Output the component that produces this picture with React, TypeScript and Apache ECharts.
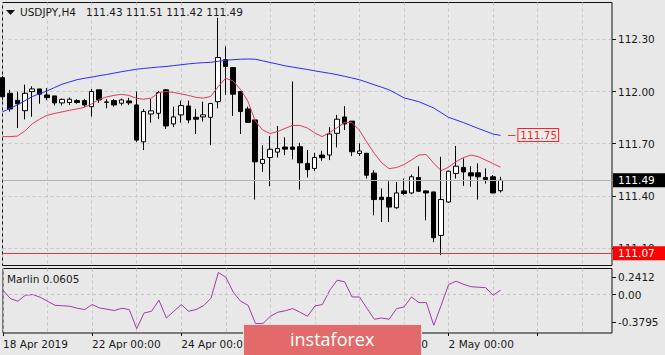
import React, { useEffect, useRef } from "react";
import * as echarts from "echarts";

const symbolLabel = "USDJPY,H4";
const days = ["18 Apr", "19 Apr", "22 Apr", "23 Apr", "24 Apr", "25 Apr", "26 Apr", "29 Apr", "30 Apr", "1 May", "2 May", "3 May", "6 May", "7 May"];
const hours = ["00:00", "04:00", "08:00", "12:00", "16:00", "20:00"];
const SLOTS = 83;
const categories = days.flatMap((d) => hours.map((h) => `${d} ${h}`)).slice(0, SLOTS);
const xTickLabels = ["18 Apr 2019", "22 Apr 00:00", "24 Apr 00:00", "26 Apr 00:00", "30 Apr 00:00", "2 May 00:00"];
const priceTicks = [111.1, 111.4, 111.7, 112.0, 112.3];
const marlinTicks = [0.2412, 0, -0.3795];

const opens = [
  112.08, 111.99, 111.95, 111.89, 112.0, 112.015, 111.98, 111.975, 111.935, 111.937,
  111.948, 111.948, 111.913, 112.01, 111.94, 111.948, 111.933, 111.946, 111.923, 111.711,
  111.871, 111.875, 112.01, 111.814, 111.866, 111.917, 111.852, 111.854, 111.852, 111.942,
  112.183, 112.138, 112.0, 111.9, 111.837, 111.587, 111.621, 111.652, 111.681, 111.681,
  111.683, 111.587, 111.558, 111.635, 111.635, 111.76, 111.854, 111.83, 111.644, 111.645,
  111.531, 111.392, 111.391, 111.332, 111.429, 111.417, 111.506, 111.429, 111.423, 111.173,
  111.365, 111.529, 111.564, 111.533, 111.533, 111.506, 111.51, 111.43,
];
const closes = [
  111.97, 111.9, 111.93, 111.99, 112.015, 111.985, 111.965, 111.935, 111.955, 111.956,
  111.937, 111.923, 112.0, 111.952, 111.938, 111.923, 111.952, 111.935, 111.721, 111.885,
  111.889, 111.994, 111.802, 111.854, 111.919, 111.837, 111.841, 111.866, 111.931, 112.196,
  112.144, 111.985, 111.885, 111.823, 111.596, 111.61, 111.668, 111.672, 111.669, 111.668,
  111.59, 111.551, 111.621, 111.62, 111.756, 111.841, 111.814, 111.654, 111.658, 111.519,
  111.379, 111.379, 111.336, 111.417, 111.414, 111.51, 111.427, 111.417, 111.16, 111.379,
  111.542, 111.571, 111.538, 111.515, 111.51, 111.495, 111.417, 111.49,
];
const lows = [
  111.95, 111.885, 111.79, 111.84, 111.855, 111.93, 111.95, 111.92, 111.92, 111.923,
  111.93, 111.913, 111.856, 111.935, 111.904, 111.913, 111.92, 111.923, 111.711, 111.664,
  111.821, 111.842, 111.785, 111.795, 111.821, 111.818, 111.756, 111.827, 111.692, 111.904,
  111.981, 111.86, 111.756, 111.82, 111.379, 111.538, 111.456, 111.621, 111.635, 111.61,
  111.437, 111.506, 111.544, 111.602, 111.606, 111.679, 111.779, 111.629, 111.629, 111.5,
  111.289, 111.25, 111.25, 111.327, 111.404, 111.41, 111.423, 111.26, 111.134, 111.06,
  111.36, 111.5, 111.458, 111.452, 111.379, 111.471, 111.415, 111.42,
];
const highs = [
  112.09, 112.01, 112.0, 112.04, 112.03, 112.015, 112.02, 111.975, 111.96, 111.966,
  111.956, 111.958, 112.014, 112.01, 111.956, 111.956, 111.96, 111.964, 112.0, 111.9,
  111.958, 112.004, 112.014, 111.913, 111.948, 111.948, 111.9, 111.942, 111.935, 112.424,
  112.26, 112.138, 112.0, 111.913, 111.837, 111.692, 111.744, 111.802, 111.737, 112.058,
  111.706, 111.664, 111.648, 111.66, 111.795, 111.866, 111.916, 111.83, 111.702, 111.645,
  111.548, 111.443, 111.485, 111.48, 111.5, 111.523, 111.571, 111.43, 111.423, 111.625,
  111.545, 111.687, 111.616, 111.571, 111.587, 111.558, 111.52, 111.51,
];
const maSlow = [
  111.883, 111.903, 111.923, 111.947, 111.971, 111.988, 112.004, 112.023, 112.042, 112.055,
  112.068, 112.076, 112.083, 112.091, 112.098, 112.106, 112.114, 112.121, 112.128, 112.133,
  112.137, 112.141, 112.144, 112.149, 112.154, 112.159, 112.163, 112.166, 112.168, 112.174,
  112.18, 112.183, 112.186, 112.187, 112.186, 112.177, 112.167, 112.158, 112.148, 112.141,
  112.134, 112.127, 112.119, 112.112, 112.105, 112.097, 112.088, 112.078, 112.068, 112.054,
  112.039, 112.025, 112.01, 111.988, 111.964, 111.953, 111.942, 111.924, 111.906, 111.879,
  111.852, 111.837, 111.822, 111.805, 111.788, 111.772, 111.756, 111.748,
];
const maFast = [
  111.741, 111.741, 111.744, 111.773, 111.814, 111.842, 111.863, 111.874, 111.883, 111.892,
  111.9, 111.909, 111.929, 111.955, 111.969, 111.978, 111.984, 111.978, 111.961, 111.956,
  111.962, 111.993, 112.0, 111.995, 111.987, 111.978, 111.967, 111.962, 111.972, 112.027,
  112.076, 112.062, 112.013, 111.946, 111.831, 111.779, 111.759, 111.77, 111.788, 111.805,
  111.805, 111.791, 111.762, 111.741, 111.765, 111.791, 111.822, 111.822, 111.779, 111.71,
  111.646, 111.591, 111.557, 111.563, 111.58, 111.606, 111.635, 111.638, 111.589, 111.545,
  111.565, 111.597, 111.62, 111.635, 111.626, 111.606, 111.586, 111.565,
];
const marlin = [
  0.059, -0.055, -0.092, -0.01, 0.0, -0.037, -0.092, -0.147, -0.153, -0.16,
  -0.188, -0.205, -0.137, -0.184, -0.201, -0.219, -0.188, -0.205, -0.466, -0.252,
  -0.229, -0.078, -0.321, -0.229, -0.137, -0.229, -0.205, -0.153, -0.051, 0.301,
  0.237, 0.032, -0.092, -0.147, -0.397, -0.397, -0.297, -0.242, -0.222, -0.192,
  -0.242, -0.297, -0.156, -0.137, 0.059, 0.196, 0.175, -0.033, -0.033, -0.188,
  -0.338, -0.321, -0.338, -0.192, -0.17, -0.033, -0.11, -0.11, -0.421, -0.147,
  0.137, 0.182, 0.141, 0.107, 0.1, 0.093, -0.01, 0.0605,
];
const currentPrice = 111.49;
const supportLevel = 111.07;
const targetLevel = 111.75;

export default function App() {
  const ref = useRef<HTMLDivElement>(null);
  useEffect(() => {
    const chart = echarts.init(ref.current!, null, { renderer: "svg" });
    const font = "DejaVu Sans";
    const txt = "#1a1a1a";
    const grid = "#c6c6c6";
    const last = opens.length - 1;
    const candles = opens.map((o, i) => [o, closes[i], lows[i], highs[i]]);
    const f2 = (v: number) => v.toFixed(2);
    chart.setOption({
      animation: false,
      backgroundColor: "#e8e8e8",
      textStyle: { fontFamily: font },
      title: [
        {
          text: `${symbolLabel}   ${f2(opens[last])} ${f2(highs[last])} ${f2(lows[last])} ${f2(closes[last])}`,
          left: 20, top: 6, padding: 0,
          textStyle: { fontSize: 10.5, fontWeight: "normal", color: txt, fontFamily: font },
        },
        {
          text: `Marlin ${marlin[last]}`,
          left: 7, top: 273, padding: 0,
          textStyle: { fontSize: 10.5, fontWeight: "normal", color: txt, fontFamily: font },
        },
      ],
      grid: [
        { left: 2.5, top: 2.5, width: 609.5, height: 263, show: true, borderColor: "#111", borderWidth: 1 },
        { left: 2.5, top: 268.5, width: 609.5, height: 64.5, show: true, borderColor: "#111", borderWidth: 1 },
      ],
      xAxis: [
        {
          type: "category", gridIndex: 0, data: categories, boundaryGap: false,
          axisLine: { show: false, onZero: false }, axisTick: { show: false }, axisLabel: { show: false },
          splitLine: { show: true, interval: 5, lineStyle: { color: grid, type: [3, 3], width: 1 } },
        },
        {
          type: "category", gridIndex: 1, data: categories, boundaryGap: false, position: "bottom",
          axisLine: { show: false, onZero: false },
          axisTick: { show: true, interval: 11, length: 3, lineStyle: { color: "#111" } },
          axisLabel: {
            interval: 11, align: "left", margin: 5, fontSize: 10.5, color: txt, fontFamily: font,
            formatter: (_v: string, i: number) => (i % 12 === 0 ? xTickLabels[i / 12] ?? "" : ""),
          },
          splitLine: { show: true, interval: 5, lineStyle: { color: grid, type: [3, 3], width: 1 } },
        },
      ],
      yAxis: [
        {
          type: "value", gridIndex: 0, position: "right", min: 111.0, max: 112.512,
          axisLine: { show: false },
          axisTick: { show: true, customValues: priceTicks, length: 4, lineStyle: { color: "#111" } },
          axisLabel: { customValues: priceTicks, formatter: (v: number) => v.toFixed(2), margin: 6, fontSize: 10.5, color: txt, fontFamily: font },
          splitLine: { show: true, lineStyle: { color: grid, type: [3, 3], width: 1 } },
        },
        {
          type: "value", gridIndex: 1, position: "right", min: -0.526, max: 0.356,
          axisLine: { show: false },
          axisTick: { show: true, customValues: marlinTicks, length: 4, lineStyle: { color: "#111" } },
          axisLabel: {
            customValues: marlinTicks, margin: 6, fontSize: 10.5, color: txt, fontFamily: font,
            formatter: (v: number) => (v === 0 ? "0.00" : v.toFixed(4)),
          },
          splitLine: { show: false },
        },
      ],
      series: [
        {
          type: "candlestick", xAxisIndex: 0, yAxisIndex: 0, data: candles, barWidth: 5,
          itemStyle: { color: "#ffffff", color0: "#000000", borderColor: "#000000", borderColor0: "#000000", borderWidth: 1 },
          markLine: {
            silent: true, symbol: ["none", "none"], animation: false,
            data: [
              {
                yAxis: currentPrice,
                lineStyle: { color: "#b4b4b4", type: "solid", width: 1 },
                label: {
                  show: true, position: "end", distance: 1, formatter: () => currentPrice.toFixed(2),
                  backgroundColor: "#000", color: "#fff", padding: [2, 12, 1, 5], fontSize: 10.5, fontFamily: font,
                },
              },
              {
                yAxis: supportLevel,
                lineStyle: { color: "#e23a3a", type: "solid", width: 1 },
                label: {
                  show: true, position: "end", distance: 1, formatter: () => supportLevel.toFixed(2),
                  backgroundColor: "#ff0000", color: "#fff", padding: [2, 12, 1, 5], fontSize: 10.5, fontFamily: font,
                },
              },
            ],
          },
        },
        {
          type: "line", xAxisIndex: 0, yAxisIndex: 0, data: maSlow, showSymbol: false, symbol: "none",
          lineStyle: { color: "#2b2bff", width: 1 },
          markLine: {
            silent: true, symbol: ["none", "none"], animation: false,
            lineStyle: { color: "#ff3030", type: "solid", width: 1 },
            label: {
              show: true, position: "end", distance: 3, formatter: () => targetLevel.toFixed(2),
              color: "#ff2020", borderColor: "#ff2020", borderWidth: 1, backgroundColor: "#eeeeee",
              padding: [1, 1, 0, 2], fontSize: 10.5, fontFamily: font,
            },
            data: [[{ xAxis: last + 1, yAxis: targetLevel }, { xAxis: last + 2, yAxis: targetLevel }]],
          },
        },
        {
          type: "line", xAxisIndex: 0, yAxisIndex: 0, data: maFast, showSymbol: false, symbol: "none",
          lineStyle: { color: "#e33a5a", width: 1 },
        },
        {
          type: "line", xAxisIndex: 1, yAxisIndex: 1, data: marlin, showSymbol: false, symbol: "none",
          lineStyle: { color: "#a33aa8", width: 1 },
          markLine: {
            silent: true, symbol: ["none", "none"], animation: false, label: { show: false },
            lineStyle: { color: grid, type: [3, 3], width: 1 },
            data: [{ yAxis: 0 }],
          },
        },
      ],
      graphic: [
        { type: "polygon", z: 100, shape: { points: [[6, 10], [15, 10], [10.5, 15]] }, style: { fill: "#111" } },
        {
          type: "rect", z: 1000, zlevel: 0,
          shape: { x: 243.5, y: 324.5, width: 178, height: 40 },
          style: { fill: "#e36a6a", stroke: "#f4dcdc", lineWidth: 1 },
        },
        {
          type: "text", z: 1001, x: 290, y: 339,
          style: { text: "instaforex", fill: "#ffffff", fontSize: 18, fontFamily: "Open Sans", verticalAlign: "middle" },
        },
      ],
    });
    return () => chart.dispose();
  }, []);
  return <div ref={ref} style={{ position: "fixed", left: 0, top: 0, width: 665, height: 355 }} />;
}
